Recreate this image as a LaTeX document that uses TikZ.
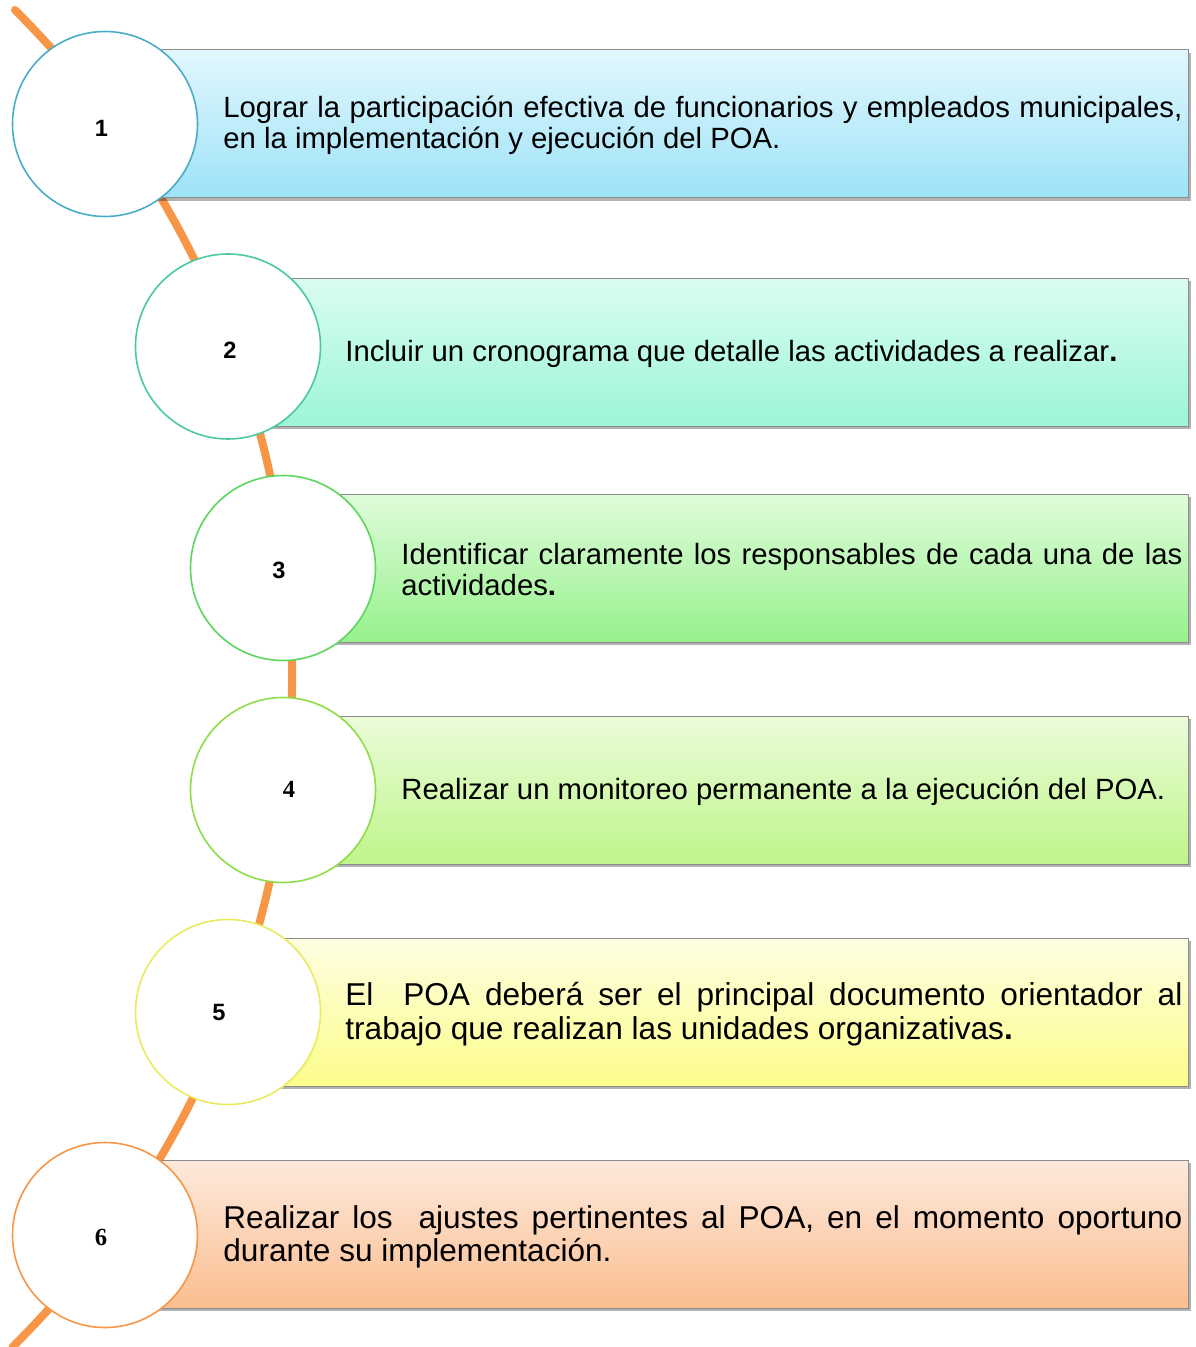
\documentclass[tikz,border=0pt]{standalone}
\usepackage{fontspec}
\setmainfont{Liberation Sans}
\newfontfamily\numserif{Liberation Serif}
\usetikzlibrary{shadows,positioning}
\definecolor{spine}{HTML}{F79646}
\definecolor{frame}{HTML}{8C8C8C}
\definecolor{topA}{HTML}{E2F7FD}\definecolor{botA}{HTML}{9DE3F8}\definecolor{ringA}{HTML}{4BACC6}
\definecolor{topB}{HTML}{DAFDF0}\definecolor{botB}{HTML}{9CF5D8}\definecolor{ringB}{HTML}{4CC9A0}
\definecolor{topC}{HTML}{E0FCDB}\definecolor{botC}{HTML}{97F18D}\definecolor{ringC}{HTML}{5CD65C}
\definecolor{topD}{HTML}{EBFCDA}\definecolor{botD}{HTML}{BFF58A}\definecolor{ringD}{HTML}{8EDD48}
\definecolor{topE}{HTML}{FEFEE2}\definecolor{botE}{HTML}{FCFC8A}\definecolor{ringE}{HTML}{E9EA5E}
\definecolor{topF}{HTML}{FDE9DC}\definecolor{botF}{HTML}{FBBE90}\definecolor{ringF}{HTML}{F79646}
\tikzset{bar/.style 2 args={anchor=west,draw=frame,line width=0.5pt,top color=#1,bottom color=#2,
    minimum height=74pt,inner sep=0pt,
    drop shadow={shadow xshift=1.2pt,shadow yshift=-1.5pt,opacity=.3,fill=black}}}
\tikzset{ring/.style={circle,draw=#1,fill=white,line width=0.8pt,minimum size=92.5pt,inner sep=0pt}}
\tikzset{num/.style={font=\fontsize{11.8}{12}\selectfont\bfseries,inner sep=0pt}}
\tikzset{txt/.style={anchor=west,align=justify,inner sep=0pt,font=\fontsize{14.65}{15.5}\selectfont}}
\tikzset{txtbig/.style={txt,font=\fontsize{15.8}{16.8}\selectfont}}

\begin{document}
\begin{tikzpicture}[x=0.5pt,y=-0.5pt]
        \useasboundingbox (0,0) rectangle (1195,1347);
        % orange spine behind the steps
        \coordinate(top) at (15,10);
        \draw[spine,line width=4pt,line cap=round] (top) arc[start angle=45.1,end angle=-45.3,radius=471pt];
        % bars
        \node(b1)[bar={topA}{botA},minimum width=541.5pt] at (105,124) {};
        \node(b2)[bar={topB}{botB},minimum width=480pt] at (228,352.5) {};
        \node(b3)[bar={topC}{botC},minimum width=452.5pt] at (283,568) {};
        \node(b4)[bar={topD}{botD},minimum width=452.5pt] at (283,790) {};
        \node(b5)[bar={topE}{botE},minimum width=480pt] at (228,1012) {};
        \node(b6)[bar={topF}{botF},minimum width=541.5pt] at (105,1234) {};
        % circles
        \node(c1)[ring=ringA] at (105,124) {};
        \node(c2)[ring=ringB] at (228,346.5) {};
        \node(c3)[ring=ringC] at (283,568) {};
        \node(c4)[ring=ringD] at (283,790) {};
        \node(c5)[ring=ringE] at (228,1012) {};
        \node(c6)[ring=ringF] at (105,1235) {};
        \node(n1)[num] at (101.5,128) {1};
        \node(n2)[num] at (230,350) {2};
        \node(n3)[num] at (279,570) {3};
        \node(n4)[num,font=\fontsize{12.3}{12}\selectfont\numserif\bfseries] at (289,789) {4};
        \node(n5)[num] at (219,1012) {5};
        \node(n6)[num,font=\fontsize{12.3}{12}\selectfont\numserif\bfseries] at (101,1237) {6};
        % texts
        \node(t1)[txt,text width=479.5pt] at (223,125.5)
          {Lograr la participación efectiva de funcionarios y empleados municipales,\linebreak en la implementación y ejecución del POA.};
        \node(t2)[txt] at (345,354)
          {Incluir un cronograma que detalle las actividades a realizar{\bfseries.}};
        \node(t3)[txt,text width=390.5pt] at (401,570)
          {Identificar claramente los responsables de cada una de las\linebreak actividades{\bfseries.}};
        \node(t4)[txt] at (401,792)
          {Realizar un monitoreo permanente a la ejecución del POA.};
        \node(t5)[txtbig,text width=418.5pt] at (345,1014)
          {El\ \ POA deberá ser el principal documento orientador al\linebreak trabajo que realizan las unidades organizativas{\bfseries.}};
        \node(t6)[txtbig,text width=479.5pt] at (223,1237)
          {Realizar los\ \ ajustes pertinentes al POA, en el momento oportuno\linebreak durante su implementación.};
\end{tikzpicture}
\end{document}
